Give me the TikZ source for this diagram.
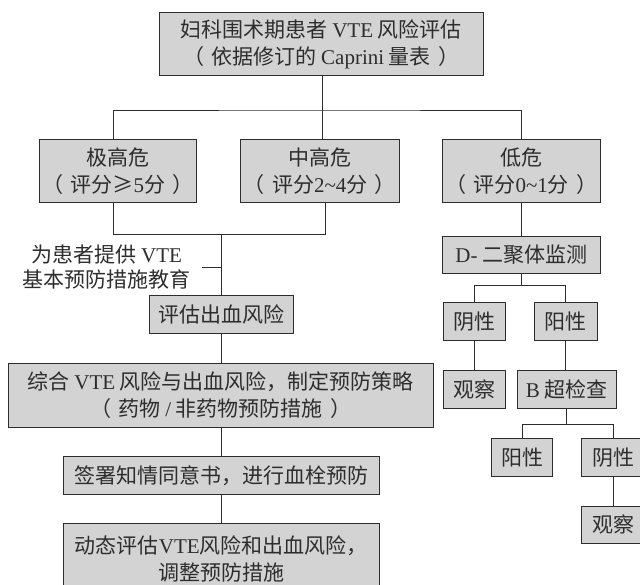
\documentclass[tikz,border=0pt]{standalone}
\usepackage{fontspec}
\setmainfont{Noto Sans CJK SC}
\newfontfamily\latfont{Liberation Serif}
\newcommand{\latw}[1]{{\latfont #1}}
\newcommand{\lp}{（\hspace{0.35em}}
\newcommand{\rp}{\hspace{0.35em}）}
\definecolor{boxfill}{RGB}{211,211,211}
\definecolor{linec}{RGB}{45,45,45}
\definecolor{txtc}{RGB}{45,45,45}
\begin{document}
\begin{tikzpicture}[x=1pt,y=-1pt,
  box/.style={draw=linec, fill=boxfill, line width=0.9pt, inner sep=0pt, align=center, text=txtc, font=\fontsize{21}{26.7}\selectfont},
  conn/.style={draw=linec, line width=0.9pt},
  lbl/.style={inner sep=0pt, align=center, text=txtc, font=\fontsize{21}{25}\selectfont}]
\clip (0,0) rectangle (640,585);
\fill[white] (0,0) rectangle (640,585);
% left column
\node[box, minimum width=324pt, minimum height=63pt] (top) at (321.2,44.3) {妇科围术期患者 \latw{VTE} 风险评估\\\lp 依据修订的 \latw{Caprini} 量表\rp};
\node[box, minimum width=157.7pt, minimum height=63.4pt] (b1) at (117.8,171) {极高危\\\lp 评分≥\latw{5}分\rp};
\node[box, minimum width=158.3pt, minimum height=63.4pt] (b2) at (319.8,171) {中高危\\\lp 评分\latw{2\char`~4}分\rp};
\node[box, minimum width=157.3pt, minimum height=63.4pt] (b3) at (521.3,171) {低危\\\lp 评分\latw{0\char`~1}分\rp};
\node[lbl] (edu) at (106.7,267.5) {为患者提供 \latw{VTE}\\基本预防措施教育};
\node[box, minimum width=144.3pt, minimum height=37.7pt] (est) at (221.2,314.2) {评估出血风险};
\node[box, minimum width=425pt, minimum height=64pt] (comb) at (220.8,395) {综合 \latw{VTE} 风险与出血风险，制定预防策略\\\lp 药物 \latw{/} 非药物预防措施\rp};
\node[box, minimum width=316pt, minimum height=38.4pt] (sign) at (221.3,475.5) {签署知情同意书，进行血栓预防};
\node[box, minimum width=316pt, minimum height=70pt] (dyn) at (221.3,558.7) {动态评估\latw{VTE}风险和出血风险，\\调整预防措施};
% right column
\node[box, minimum width=157.3pt, minimum height=37.3pt] (dd) at (521.3,254.7) {\latw{D-} 二聚体监测};
\node[box, minimum width=62.3pt, minimum height=37.6pt] (neg1) at (474.5,321.5) {阴性};
\node[box, minimum width=62.7pt, minimum height=37.6pt] (pos1) at (565.6,321.5) {阳性};
\node[box, minimum width=62.3pt, minimum height=37.7pt] (obs1) at (474.5,389.2) {观察};
\node[box, minimum width=98.7pt, minimum height=37.7pt] (bus) at (566.7,389.2) {\latw{B} 超检查};
\node[box, minimum width=61.6pt, minimum height=37.6pt] (pos2) at (522,457.5) {阳性};
\node[box, minimum width=62.3pt, minimum height=37.6pt] (neg2) at (613,457.5) {阴性};
\node[box, minimum width=62.3pt, minimum height=37.7pt] (obs2) at (613,524.8) {观察};
% connectors
\coordinate (j1) at (322,110);
\draw[conn] (top.south -| j1) -- (j1);
\draw[conn] ([xshift=-4.8pt]b1.north) |- (j1) -| (b3.north);
\draw[conn] (j1) -- (b2.north -| j1);
\coordinate (j2) at (221.7,234.3);
\draw[conn] ([xshift=-4.8pt]b1.south) |- (j2) -| ([xshift=5.2pt]b2.south);
\draw[conn] (j2) -- (est.north -| j2);
\draw[conn] ([xshift=11pt]edu.east) -- (edu.east -| j2);
\draw[conn] (est.south -| j2) -- (comb.north -| j2);
\draw[conn] (comb.south -| j2) -- (sign.north -| j2);
\draw[conn] (sign.south -| j2) -- (dyn.north -| j2);
\draw[conn] (b3.south) -- (dd.north);
\coordinate (j3) at (521.3,285.7);
\draw[conn] (dd.south) -- (j3);
\draw[conn] (neg1.north) |- (j3) -| (pos1.north);
\draw[conn] (neg1.south) -- (obs1.north);
\draw[conn] (pos1.south) -- (pos1.south |- bus.north);
\coordinate (j4) at (566.7,424.3);
\draw[conn] (bus.south) -- (j4);
\draw[conn] (pos2.north) |- (j4) -| (neg2.north);
\draw[conn] (neg2.south) -- (obs2.north);
\end{tikzpicture}
\end{document}
